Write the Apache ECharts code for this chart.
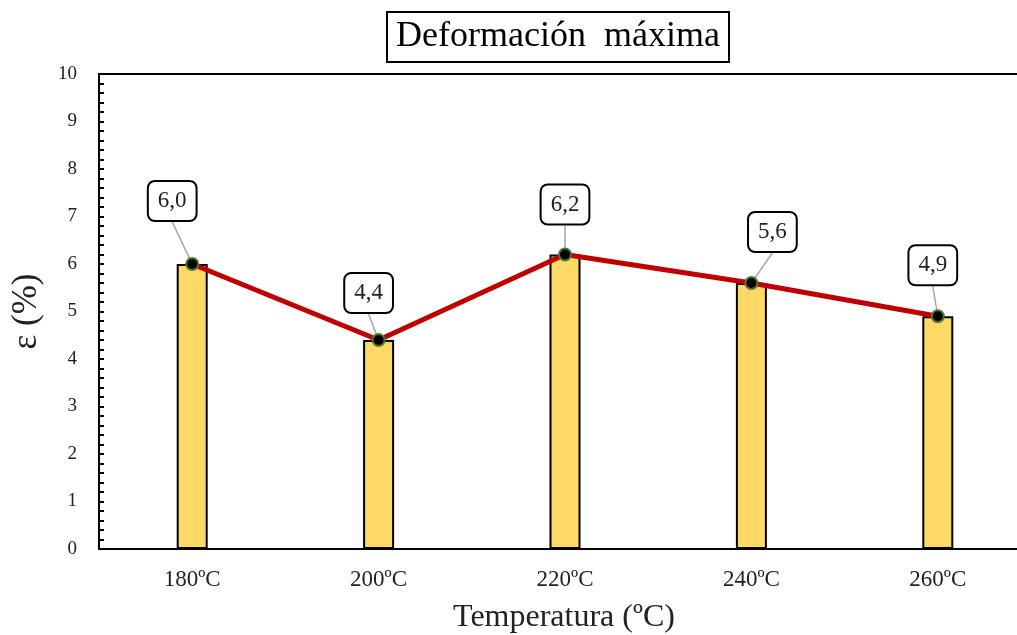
<!DOCTYPE html>
<html>
<head>
<meta charset="utf-8">
<script src="https://cdn.jsdelivr.net/npm/echarts@6/dist/echarts.min.js"></script>
<style>
  html, body { margin: 0; padding: 0; background: #fff; }
  #chart { width: 1017px; height: 635px; }
</style>
</head>
<body>
<div id="chart"></div>
<script>
// Maximum strain per processing temperature
const categories = ['180ºC', '200ºC', '220ºC', '240ºC', '260ºC'];
const strain = [6.0, 4.4, 6.2, 5.6, 4.9];
const yTicks = [0, 10, 1];   // min, max, step

// Offset of each value callout from its point (px)
const calloutOffset = [[-20, -63], [-10, -47], [0, -50], [21, -51], [-5, -51]];

const serif = 'Liberation Serif, Times New Roman, serif';
const fmt = v => v.toFixed(1).replace('.', ',');

const chart = echarts.init(document.getElementById('chart'));
chart.setOption({
  animation: false,
  title: {
    text: 'Deformación  máxima',
    left: 387,
    top: 12,
    padding: [7, 9, 7, 9],
    borderColor: '#000',
    borderWidth: 2,
    textStyle: { fontFamily: serif, fontSize: 36, fontWeight: 'normal', color: '#000' }
  },
  grid: {
    left: 99, top: 74, bottom: 86, width: 932,
    outerBoundsMode: 'none',
    show: true, borderColor: '#000', borderWidth: 2, backgroundColor: 'transparent'
  },
  xAxis: {
    type: 'category',
    data: categories,
    name: 'Temperatura (ºC)',
    nameLocation: 'middle',
    nameGap: 53,
    nameTextStyle: { fontFamily: serif, fontSize: 32, color: '#222', padding: [0, 0, 0, -932 + 2 * (564 - 99)] },
    axisLine: { lineStyle: { color: '#000', width: 2 } },
    axisTick: { show: false },
    axisLabel: { fontFamily: serif, fontSize: 23, color: '#222', margin: 19 }
  },
  yAxis: {
    type: 'value',
    min: yTicks[0], max: yTicks[1], interval: yTicks[2],
    name: 'ε (%)',
    nameLocation: 'middle',
    nameGap: 55,
    nameRotate: 90,
    nameTextStyle: { fontFamily: serif, fontSize: 35, color: '#222' },
    axisLine: { show: true, lineStyle: { color: '#000', width: 2 } },
    axisTick: { show: true, inside: true, length: 5, lineStyle: { color: '#000', width: 2 } },
    minorTick: { show: true, splitNumber: 5, length: 5, lineStyle: { color: '#000', width: 2 } },
    splitLine: { show: false },
    axisLabel: { fontFamily: serif, fontSize: 19, color: '#222', margin: 22 }
  },
  series: [
    {
      type: 'bar',
      data: strain,
      barWidth: 31,
      itemStyle: { color: '#FFD966', borderColor: '#000', borderWidth: 2 },
      z: 2
    },
    {
      type: 'line',
      data: strain,
      symbol: 'circle',
      symbolSize: 12,
      lineStyle: { color: '#C00000', width: 5 },
      itemStyle: { color: '#000', borderColor: '#4E7A2C', borderWidth: 2 },
      z: 3,
      label: {
        show: true,
        formatter: p => fmt(p.value),
        fontFamily: serif,
        fontSize: 23,
        color: '#222',
        backgroundColor: '#fff',
        borderColor: '#000',
        borderWidth: 2,
        borderRadius: 6,
        padding: [8, 9, 7, 9]
      },
      labelLine: { show: true, lineStyle: { color: '#A6A6A6', width: 1.5 } },
      labelLayout: p => {
        const o = calloutOffset[p.dataIndex];
        return {
          x: p.rect.x + p.rect.width / 2 + o[0],
          y: p.rect.y + p.rect.height / 2 + o[1],
          align: 'center',
          verticalAlign: 'middle'
        };
      }
    }
  ]
});
</script>
</body>
</html>
